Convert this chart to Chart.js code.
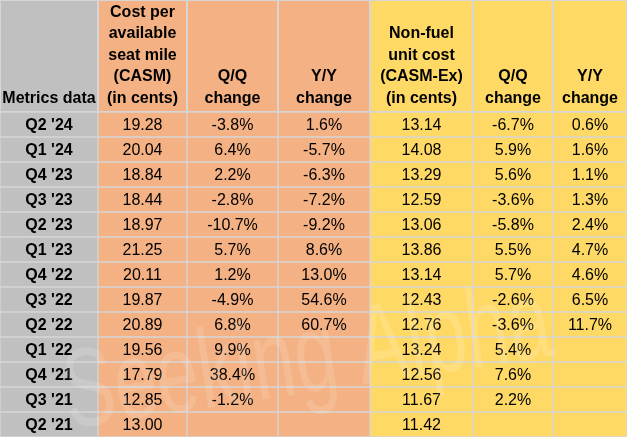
<!DOCTYPE html>
<html>
<head>
<meta charset="utf-8">
<script src="https://cdn.jsdelivr.net/npm/chart.js@4/dist/chart.umd.min.js"></script>
<style>
  body { margin: 0; background: #fff; }
  #wrap { width: 627px; height: 437px; }
</style>
</head>
<body>
<div id="wrap"><canvas id="myChart" width="627" height="437"></canvas></div>
<script>
// table data
const quarters = ["Q2 '24", "Q1 '24", "Q4 '23", "Q3 '23", "Q2 '23", "Q1 '23", "Q4 '22",
  "Q3 '22", "Q2 '22", "Q1 '22", "Q4 '21", "Q3 '21", "Q2 '21"];
const casm = [19.28, 20.04, 18.84, 18.44, 18.97, 21.25, 20.11, 19.87, 20.89, 19.56, 17.79, 12.85, 13.00];
const casmQoQ = [-3.8, 6.4, 2.2, -2.8, -10.7, 5.7, 1.2, -4.9, 6.8, 9.9, 38.4, -1.2, null];
const casmYoY = [1.6, -5.7, -6.3, -7.2, -9.2, 8.6, 13.0, 54.6, 60.7, null, null, null, null];
const casmEx = [13.14, 14.08, 13.29, 12.59, 13.06, 13.86, 13.14, 12.43, 12.76, 13.24, 12.56, 11.67, 11.42];
const casmExQoQ = [-6.7, 5.9, 5.6, -3.6, -5.8, 5.5, 5.7, -2.6, -3.6, 5.4, 7.6, 2.2, null];
const casmExYoY = [0.6, 1.6, 1.1, 1.3, 2.4, 4.7, 4.6, 6.5, 11.7, null, null, null, null];
const headers = [
  ["Metrics data"],
  ["Cost per", "available", "seat mile", "(CASM)", "(in cents)"],
  ["Q/Q", "change"],
  ["Y/Y", "change"],
  ["Non-fuel", "unit cost", "(CASM-Ex)", "(in cents)"],
  ["Q/Q", "change"],
  ["Y/Y", "change"]
];

// layout / style
const colWidths = [98, 89, 91, 92, 103, 80, 74];
const colColors = ["#c0c0c0", "#f4b183", "#f4b183", "#f4b183", "#ffd966", "#ffd966", "#ffd966"];
const lineColor = "#d6d6d6";
const headerHeight = 112;

const fmtNum = (v) => (v == null ? "" : v.toFixed(2));
const fmtPct = (v) => (v == null ? "" : v.toFixed(1) + "%");

const columns = [
  { text: quarters, bold: true },
  { text: casm.map(fmtNum) },
  { text: casmQoQ.map(fmtPct) },
  { text: casmYoY.map(fmtPct) },
  { text: casmEx.map(fmtNum) },
  { text: casmExQoQ.map(fmtPct) },
  { text: casmExYoY.map(fmtPct) }
];

const datasets = columns.map((col, i) => ({
  label: headers[i].join(" "),
  data: quarters.map(() => colWidths[i]),
  backgroundColor: colColors[i],
  borderColor: lineColor,
  borderWidth: 1,
  borderSkipped: false,
  barPercentage: 1,
  categoryPercentage: 1
}));

const tablePlugin = {
  id: "tableText",
  beforeDatasetsDraw(chart) {
    const ctx = chart.ctx;
    const xs = chart.scales.x;
    let start = 0;
    ctx.save();
    headers.forEach((lines, i) => {
      const x0 = xs.getPixelForValue(start);
      const x1 = xs.getPixelForValue(start + colWidths[i]);
      start += colWidths[i];
      ctx.fillStyle = colColors[i];
      ctx.fillRect(x0, 0, x1 - x0, headerHeight);
      ctx.strokeStyle = lineColor;
      ctx.lineWidth = 1;
      ctx.strokeRect(x0 + 0.5, 0.5, x1 - x0 - 1, headerHeight - 1);
      ctx.fillStyle = "#000";
      ctx.font = "bold 16px 'Liberation Sans', Arial, sans-serif";
      ctx.textAlign = "center";
      ctx.textBaseline = "alphabetic";
      const cx = (x0 + x1) / 2;
      lines.forEach((t, k) => {
        const y = 103 - (lines.length - 1 - k) * 21.6;
        ctx.fillText(t, cx, y);
      });
    });
    ctx.restore();
  },
  afterDatasetsDraw(chart) {
    const ctx = chart.ctx;
    ctx.save();
    ctx.fillStyle = "#000";
    ctx.textAlign = "center";
    ctx.textBaseline = "middle";
    columns.forEach((col, i) => {
      ctx.font = (col.bold ? "bold " : "") + "16px 'Liberation Sans', Arial, sans-serif";
      chart.getDatasetMeta(i).data.forEach((bar, j) => {
        const cx = (bar.x + bar.base) / 2;
        ctx.fillText(col.text[j], cx, bar.y + 1);
      });
    });
    // faint watermark
    ctx.globalAlpha = 0.14;
    ctx.fillStyle = "#fff";
    ctx.translate(312, 392);
    ctx.rotate(-0.15);
    ctx.scale(0.68, 1);
    ctx.font = "112px 'Liberation Sans Narrow', 'Liberation Sans', sans-serif";
    ctx.textAlign = "center";
    ctx.textBaseline = "alphabetic";
    ctx.fillText("Seeking Alpha", 0, 0);
    ctx.restore();
  }
};

const ctx = document.getElementById("myChart").getContext("2d");
const myChart = new Chart(ctx, {
  type: "bar",
  data: { labels: quarters, datasets: datasets },
  options: {
    indexAxis: "y",
    responsive: false,
    animation: false,
    layout: { padding: { top: headerHeight, left: 0, right: 0, bottom: 0 } },
    plugins: { legend: { display: false }, tooltip: { enabled: false } },
    scales: {
      x: { type: "linear", stacked: true, min: 0, max: 627, display: false },
      y: { stacked: true, display: false }
    }
  },
  plugins: [tablePlugin]
});
</script>
</body>
</html>
